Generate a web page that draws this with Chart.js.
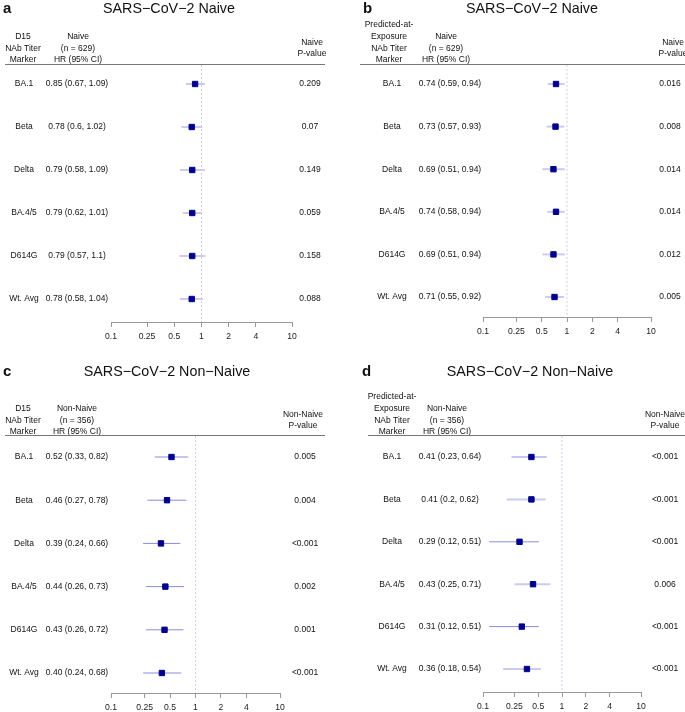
<!DOCTYPE html>
<html>
<head>
<meta charset="utf-8">
<script src="https://cdn.jsdelivr.net/npm/chart.js@4.4.1/dist/chart.umd.min.js"></script>
<style>
  html, body { margin: 0; padding: 0; background: #fff; }
  #wrap { position: relative; width: 685px; height: 712px; overflow: hidden; }
  canvas { position: absolute; }
</style>
</head>
<body>
<div id="wrap">
  <canvas id="pa" width="340" height="350" style="left:0;top:0"></canvas>
  <canvas id="pb" width="345" height="350" style="left:340px;top:0"></canvas>
  <canvas id="pc" width="340" height="362" style="left:0;top:350px"></canvas>
  <canvas id="pd" width="345" height="362" style="left:340px;top:350px"></canvas>
</div>
<script>
const markers = ['BA.1', 'Beta', 'Delta', 'BA.4/5', 'D614G', 'Wt. Avg'];
const xTicks = [0.1, 0.25, 0.5, 1, 2, 4, 10];

// a: D15, naive
const hrA = [0.85, 0.78, 0.79, 0.79, 0.79, 0.78];
const loA = [0.67, 0.6, 0.58, 0.62, 0.57, 0.58];
const hiA = [1.09, 1.02, 1.09, 1.01, 1.1, 1.04];
const pvA = ['0.209', '0.07', '0.149', '0.059', '0.158', '0.088'];

// b: predicted-at-exposure, naive
const hrB = [0.74, 0.73, 0.69, 0.74, 0.69, 0.71];
const loB = [0.59, 0.57, 0.51, 0.58, 0.51, 0.55];
const hiB = [0.94, 0.93, 0.94, 0.94, 0.94, 0.92];
const pvB = ['0.016', '0.008', '0.014', '0.014', '0.012', '0.005'];

// c: D15, non-naive
const hrC = [0.52, 0.46, 0.39, 0.44, 0.43, 0.40];
const loC = [0.33, 0.27, 0.24, 0.26, 0.26, 0.24];
const hiC = [0.82, 0.78, 0.66, 0.73, 0.72, 0.68];
const pvC = ['0.005', '0.004', '<0.001', '0.002', '0.001', '<0.001'];

// d: predicted-at-exposure, non-naive
const hrD = [0.41, 0.41, 0.29, 0.43, 0.31, 0.36];
const loD = [0.23, 0.2, 0.12, 0.25, 0.12, 0.18];
const hiD = [0.64, 0.62, 0.51, 0.71, 0.51, 0.54];
const pvD = ['<0.001', '<0.001', '<0.001', '0.006', '<0.001', '<0.001'];

const headD15 = ['D15', 'NAb Titer', 'Marker'];
const headPred = ['Predicted-at-', 'Exposure', 'NAb Titer', 'Marker'];
const headNaive = ['Naive', '(n = 629)', 'HR (95% CI)'];
const headNon = ['Non-Naive', '(n = 356)', 'HR (95% CI)'];
const pHeadNaive = ['Naive', 'P-value'];
const pHeadNon = ['Non-Naive', 'P-value'];

const FONT = '"Liberation Sans", Arial, Helvetica, sans-serif';
Chart.defaults.font.family = FONT;

function drawText(chart, p) {
  const ctx = chart.ctx;
  const ys = chart.scales.y;
  const fmt = v => p.fixed ? v.toFixed(2) : String(v);
  ctx.save();
  ctx.fillStyle = '#111';
  ctx.textBaseline = 'middle';

  ctx.font = 'bold 15px ' + FONT;
  ctx.textAlign = 'left';
  ctx.fillText(p.letter, p.letterX, p.titleY);

  ctx.font = '14.3px ' + FONT;
  ctx.textAlign = 'center';
  ctx.fillText(p.title, p.titleX, p.titleY);

  ctx.font = '8.5px ' + FONT;
  const lh = 11.7;
  p.head1.forEach((t, k) => ctx.fillText(t, p.col1, p.headY - (p.head1.length - 1 - k) * lh));
  p.head2.forEach((t, k) => ctx.fillText(t, p.col2, p.headY - (p.head2.length - 1 - k) * lh));
  p.headP.forEach((t, k) => ctx.fillText(t, p.colP, p.headY - 6 - (p.headP.length - 1 - k) * lh));

  ctx.strokeStyle = '#777';
  ctx.lineWidth = 1;
  ctx.beginPath();
  ctx.moveTo(p.ruleL, chart.chartArea.top - 0.5);
  ctx.lineTo(p.ruleR, chart.chartArea.top - 0.5);
  ctx.stroke();

  markers.forEach((m, i) => {
    const py = ys.getPixelForValue(i);
    ctx.fillText(m, p.col1r, py);
    ctx.fillText(fmt(p.hr[i]) + ' (' + fmt(p.lo[i]) + ', ' + fmt(p.hi[i]) + ')', p.col2r, py);
    ctx.fillText(p.pv[i], p.colPr, py);
  });
  ctx.restore();
}

function forest(id, p) {
  const cv = document.getElementById(id);
  const W = cv.width, H = cv.height;
  const yMin = (p.ruleY - p.row0) / p.gap;
  const yMax = (p.axisY - p.row0) / p.gap;

  const ciSets = markers.map((m, i) => ({
    showLine: true,
    order: 1,
    data: [{ x: p.lo[i], y: i }, { x: p.hi[i], y: i }],
    borderColor: p.dark[i] ? '#8a8adc' : '#cbcbf0',
    borderWidth: p.dark[i] ? 1 : 2,
    pointRadius: 0
  }));

  new Chart(cv, {
    type: 'scatter',
    data: {
      datasets: [
        {
          order: 0,
          data: markers.map((m, i) => ({ x: p.hr[i], y: i })),
          pointStyle: 'rect',
          pointRadius: 3.8,
          backgroundColor: '#00008b',
          borderColor: '#00008b',
          borderWidth: 1
        },
        ...ciSets,
        {
          order: 2,
          showLine: true,
          data: [{ x: 1, y: yMin }, { x: 1, y: yMax }],
          borderColor: '#d0d0ee',
          borderWidth: 1,
          borderDash: [2, 2],
          pointRadius: 0
        }
      ]
    },
    options: {
      responsive: false,
      animation: false,
      events: [],
      layout: {
        padding: { left: p.axisL, right: W - p.axisR, top: p.ruleY, bottom: H - p.axisY - 20 }
      },
      plugins: { legend: { display: false }, tooltip: { enabled: false } },
      scales: {
        x: {
          type: 'logarithmic',
          min: 0.1,
          max: 10,
          afterBuildTicks: s => { s.ticks = xTicks.map(v => ({ value: v })); },
          afterFit: s => { s.height = 20; },
          grid: { drawOnChartArea: false, drawTicks: true, tickLength: 5, color: '#999' },
          border: { display: true, color: '#999', width: 1 },
          ticks: {
            autoSkip: false,
            maxRotation: 0,
            padding: 4,
            color: '#222',
            font: { size: 8.6 },
            callback: v => String(v)
          }
        },
        y: { type: 'linear', reverse: true, min: yMin, max: yMax, display: false }
      }
    },
    plugins: [{ id: 'forestText', afterDraw: c => drawText(c, p) }]
  });
}

forest('pa', {
  hr: hrA, lo: loA, hi: hiA, pv: pvA, fixed: false,
  dark: [0, 0, 0, 0, 0, 0],
  letter: 'a', letterX: 3, title: 'SARS\u2212CoV\u22122 Naive', titleX: 169, titleY: 9,
  head1: headD15, head2: headNaive, headP: pHeadNaive,
  col1: 23, col2: 78, colP: 312, headY: 60,
  col1r: 24, col2r: 77, colPr: 310,
  ruleL: 5, ruleR: 325,
  axisL: 111, axisR: 292, ruleY: 65, axisY: 322, row0: 84, gap: 43
});

forest('pb', {
  hr: hrB, lo: loB, hi: hiB, pv: pvB, fixed: false,
  dark: [0, 0, 0, 0, 0, 0],
  letter: 'b', letterX: 23, title: 'SARS\u2212CoV\u22122 Naive', titleX: 192, titleY: 9,
  head1: headPred, head2: headNaive, headP: pHeadNaive,
  col1: 49, col2: 106, colP: 333, headY: 60,
  col1r: 52, col2r: 110, colPr: 330,
  ruleL: 20, ruleR: 345,
  axisL: 143, axisR: 311, ruleY: 65, axisY: 317, row0: 84, gap: 42.6
});

forest('pc', {
  hr: hrC, lo: loC, hi: hiC, pv: pvC, fixed: true,
  dark: [1, 1, 1, 1, 1, 1],
  letter: 'c', letterX: 3, title: 'SARS\u2212CoV\u22122 Non\u2212Naive', titleX: 167, titleY: 22,
  head1: headD15, head2: headNon, headP: pHeadNon,
  col1: 23, col2: 77, colP: 303, headY: 82,
  col1r: 24, col2r: 77, colPr: 305,
  ruleL: 5, ruleR: 325,
  axisL: 111, axisR: 280, ruleY: 86, axisY: 343, row0: 107, gap: 43.2
});

forest('pd', {
  hr: hrD, lo: loD, hi: hiD, pv: pvD, fixed: false,
  dark: [1, 0, 1, 0, 1, 0],
  letter: 'd', letterX: 22, title: 'SARS\u2212CoV\u22122 Non\u2212Naive', titleX: 190, titleY: 22,
  head1: headPred, head2: headNon, headP: pHeadNon,
  col1: 52, col2: 107, colP: 325, headY: 82,
  col1r: 52, col2r: 110, colPr: 325,
  ruleL: 28, ruleR: 345,
  axisL: 143, axisR: 301, ruleY: 86, axisY: 342, row0: 107, gap: 42.4
});
</script>
</body>
</html>
